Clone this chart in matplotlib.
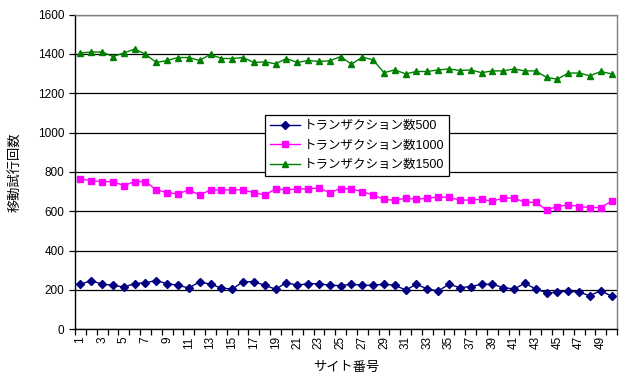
import matplotlib
matplotlib.use("Agg")
import matplotlib.pyplot as plt
from matplotlib.ticker import FixedLocator, FixedFormatter

plt.rcParams['font.family'] = ['Liberation Sans', 'Noto Sans CJK JP']

sites = list(range(1, 51))

tx500 = [229, 248, 229, 224, 215, 232, 237, 248, 232, 224,
         210, 242, 229, 210, 204, 242, 242, 224, 204, 237,
         224, 232, 232, 224, 222, 229, 224, 224, 229, 224,
         200, 229, 205, 195, 229, 212, 217, 229, 229, 212,
         205, 234, 205, 186, 188, 195, 188, 171, 197, 168]

tx1000 = [765, 756, 751, 751, 731, 751, 751, 709, 695, 689,
          709, 683, 709, 709, 709, 709, 695, 683, 714, 709,
          714, 714, 719, 695, 716, 714, 700, 683, 661, 656,
          667, 661, 667, 672, 672, 656, 658, 661, 652, 667,
          667, 646, 646, 607, 624, 633, 624, 619, 619, 652]

tx1500 = [1405, 1410, 1410, 1387, 1405, 1425, 1399, 1357, 1367, 1382,
          1382, 1367, 1399, 1377, 1377, 1382, 1357, 1360, 1350, 1377,
          1357, 1367, 1362, 1365, 1387, 1348, 1384, 1370, 1305, 1319,
          1299, 1311, 1311, 1319, 1324, 1316, 1319, 1305, 1314, 1314,
          1324, 1314, 1314, 1281, 1272, 1303, 1303, 1289, 1311, 1299]

series_labels = ['トランザクション数500', 'トランザクション数1000', 'トランザクション数1500']
y_ticks = [0, 200, 400, 600, 800, 1000, 1200, 1400, 1600]

fig = plt.figure(figsize=(6.21, 3.76), dpi=100)
ax = fig.add_axes([0.1208, 0.1242, 0.8728, 0.8368])

ax.plot(sites, tx500, color='#000080', marker='D', markersize=3.6, lw=1.0, label=series_labels[0])
ax.plot(sites, tx1000, color='#FF00FF', marker='s', markersize=4.2, lw=1.0, label=series_labels[1])
ax.plot(sites, tx1500, color='#008000', marker='^', markersize=4.8, lw=1.0, label=series_labels[2])

ax.set_xlim(0.5, 50.5)
ax.set_ylim(0, 1600)
ax.set_yticks(y_ticks)
ax.yaxis.grid(True, color='black', lw=0.9)
ax.set_axisbelow(True)
ax.tick_params(axis='y', labelsize=8.5, length=4, direction='out', width=0.9)

# tick marks on category boundaries, labels at odd category centres
ax.xaxis.set_major_locator(FixedLocator([k + 0.5 for k in range(0, 51)]))
ax.xaxis.set_major_formatter(FixedFormatter([''] * 51))
odd = [s for s in sites if s % 2 == 1]
ax.xaxis.set_minor_locator(FixedLocator(odd))
ax.xaxis.set_minor_formatter(FixedFormatter([str(s) for s in odd]))
ax.tick_params(axis='x', which='major', length=4, width=0.9, direction='out')
ax.tick_params(axis='x', which='minor', length=0, labelsize=8.5, labelrotation=90, pad=5)

for side in ('left', 'bottom'):
    ax.spines[side].set_color('black')
    ax.spines[side].set_linewidth(1.0)
for side in ('top', 'right'):
    ax.spines[side].set_color('#808080')
    ax.spines[side].set_linewidth(1.0)

ax.set_xlabel('サイト番号', fontsize=9.5)
ax.xaxis.set_label_coords(0.5, -0.123)
ax.xaxis.label.set_verticalalignment('center')
ax.set_ylabel('移動試行回数', fontsize=9.5)
ax.yaxis.set_label_coords(-0.11, 0.5)
ax.yaxis.label.set_verticalalignment('center')

leg = ax.legend(loc='upper left', bbox_to_anchor=(0.35, 0.68), fontsize=9,
                frameon=True, fancybox=False, edgecolor='black', framealpha=1,
                borderpad=0.4, labelspacing=0.6, handlelength=2.4, handletextpad=0.3,
                borderaxespad=0)
leg.get_frame().set_linewidth(0.9)

fig.savefig('out.png', dpi=100)
